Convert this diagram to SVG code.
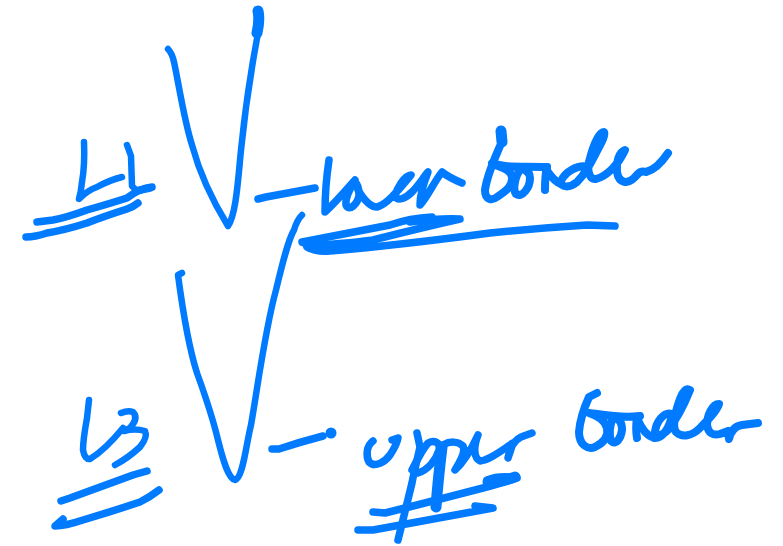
<svg xmlns="http://www.w3.org/2000/svg" width="783" height="546" viewBox="0 0 783 546">
<style>
path{fill:none;stroke:#007aff;stroke-width:6.5;stroke-linecap:round;stroke-linejoin:round}
.t{stroke-width:7.5}
.b{stroke-width:8}
.x{stroke-width:11}
</style>
<rect width="783" height="546" fill="#fff"/>
<g id="curve-upper-v">
<path d="M168 49Q172 53 174 62C179 85 184 120 192 145C200 175 212 200 228 226C236 215 238 180 241 150C245 110 251 70 258 33"/>
<path class="x" d="M258 11Q260 20 257 33"/>
<path class="t" d="M258 199L266 197L315 188"/>
</g>
<g id="label-l1" aria-label="L1">
<path d="M84 142Q85 165 82 182Q81 192 79 199Q88 190 97 187Q110 180 122 177"/>
<path d="M127 145L131 156L132 186L135 189"/>
<path class="t" d="M152 187Q140 188 127 198Q105 205 87 210Q65 218 53 220L37 222"/>
<path class="t" d="M138 203Q133 207 127 209Q105 216 87 223Q65 230 47 233Q35 237 26 237"/>
<path class="t" d="M150 188L136 191"/>
</g>
<g id="label-lower" aria-label="lower">
<path class="t" d="M329 160C326 180 325 198 325 212C336 202 346 190 355 180C349 190 345 198 346 205C349 212 358 204 359 195C359 188 357 183 354 181"/>
<path class="t" d="M358 190C364 200 370 207 377 207C386 205 397 192 411 175C404 176 397 188 395 196C398 202 406 198 412 192C418 186 423 178 428 172C424 182 420 195 420 205C428 196 434 182 442 172C448 177 455 180 462 183"/>
</g>
<g id="label-lower-border" aria-label="border">
<path class="x" d="M501 131L502 142"/>
<path class="b" d="M500 146C494 160 487 175 485 190C485 200 492 201 497 197C506 191 513 186 512 177C510 168 500 168 492 163C505 168 520 166 547 167"/>
<path class="b" d="M521 168C514 178 513 190 516 194C522 198 530 188 530 178C530 172 526 170 522 169"/>
<path class="b" d="M547 167C545 175 545 183 545 190"/>
<path class="b" d="M548 172C552 178 556 182 561 184"/>
<path class="b" d="M588 167C578 164 565 172 561 181C560 188 570 188 577 182C583 176 590 165 595 155C600 145 606 135 604 132C598 132 592 150 589 162C587 172 590 180 596 179C607 176 618 165 625 150C619 152 616 162 617 172C619 184 628 184 634 178C638 174 640 170 646 172C654 170 662 162 668 153"/>
</g>
<g id="underline-lower">
<path class="t" d="M302 242L390 225Q410 218 432 217"/>
<path class="t" d="M304 243Q320 247 373 240Q420 228 460 219Q440 218 410 222"/>
<path class="t" d="M307 247Q315 252 330 251Q400 245 490 233Q540 228 587 225L615 226"/>
</g>
<g id="curve-lower-v">
<path d="M182 273L178 275C182 305 188 345 197 373C205 395 212 415 218 440C223 460 228 478 235 480C243 478 246 445 251 425C258 385 265 330 276 290C282 265 288 240 294 230Q297 220 302 215"/>
<path class="t" d="M272 449L279 449Q300 442 323 436"/>
<circle cx="331" cy="433" r="5.5" fill="#007aff"/>
</g>
<g id="label-l3" aria-label="L3">
<path d="M89 400L87 418Q83 440 83 450Q85 460 90 459Q105 450 123 428"/>
<path d="M121 413Q128 410 133 412Q139 418 130 428L124 431Q135 428 145 431Q148 437 140 447Q128 458 115 465"/>
<path class="t" d="M147 471L133 475L70 498L61 501"/>
<path class="t" d="M159 490Q150 497 140 502Q110 512 83 520Q65 526 55 526L63 519"/>
</g>
<g id="label-upper" aria-label="upper">
<path class="t" d="M373 441C366 446 366 456 369 462C375 468 385 462 390 455C394 449 397 444 398 438L392 440"/>
<path class="t" d="M417 433L420 447C416 465 413 477 412 483L398 540"/>
<path class="t" d="M412 470C416 462 422 450 428 443C434 440 441 442 439 450C436 460 428 470 418 473"/>
<path class="x" d="M442 447Q438 480 436 507"/>
<path class="t" d="M443 445C450 441 458 441 463 446C466 452 460 462 455 470C463 463 472 448 478 435C473 448 474 458 480 461C490 460 502 450 513 443L508 458C510 448 515 440 521 437L532 433"/>
</g>
<g id="underline-upper">
<path class="t" d="M373 512L385 513L417 505L483 488Q505 482 517 478Q500 475 487 480"/>
<path class="x" d="M488 482Q505 481 515 477"/>
<path class="t" d="M358 530L373 530L417 522L493 508L475 506"/>
</g>
<g id="label-upper-border" aria-label="border">
<path class="b" d="M597 393L589 397C584 408 580 420 579 432C579 445 588 450 595 447C603 443 609 437 607 428C605 420 598 416 589 413C600 414 620 419 640 416"/>
<path class="b" d="M613 417C610 425 609 435 611 441C616 446 621 438 622 430C622 423 620 419 615 418"/>
<path class="b" d="M637 417C636 424 636 432 637 438"/>
<path class="b" d="M638 420C642 430 648 436 654 438C662 439 670 428 672 414C664 411 656 422 655 432C655 438 662 436 668 430C676 420 684 405 690 390C684 386 680 398 677 408C674 418 673 428 676 432C682 438 692 436 700 428C708 420 716 412 719 404C712 404 707 416 707 425C708 433 713 436 720 434L728 431L729 439C731 430 735 426 742 425L758 423"/>
</g>
</svg>
